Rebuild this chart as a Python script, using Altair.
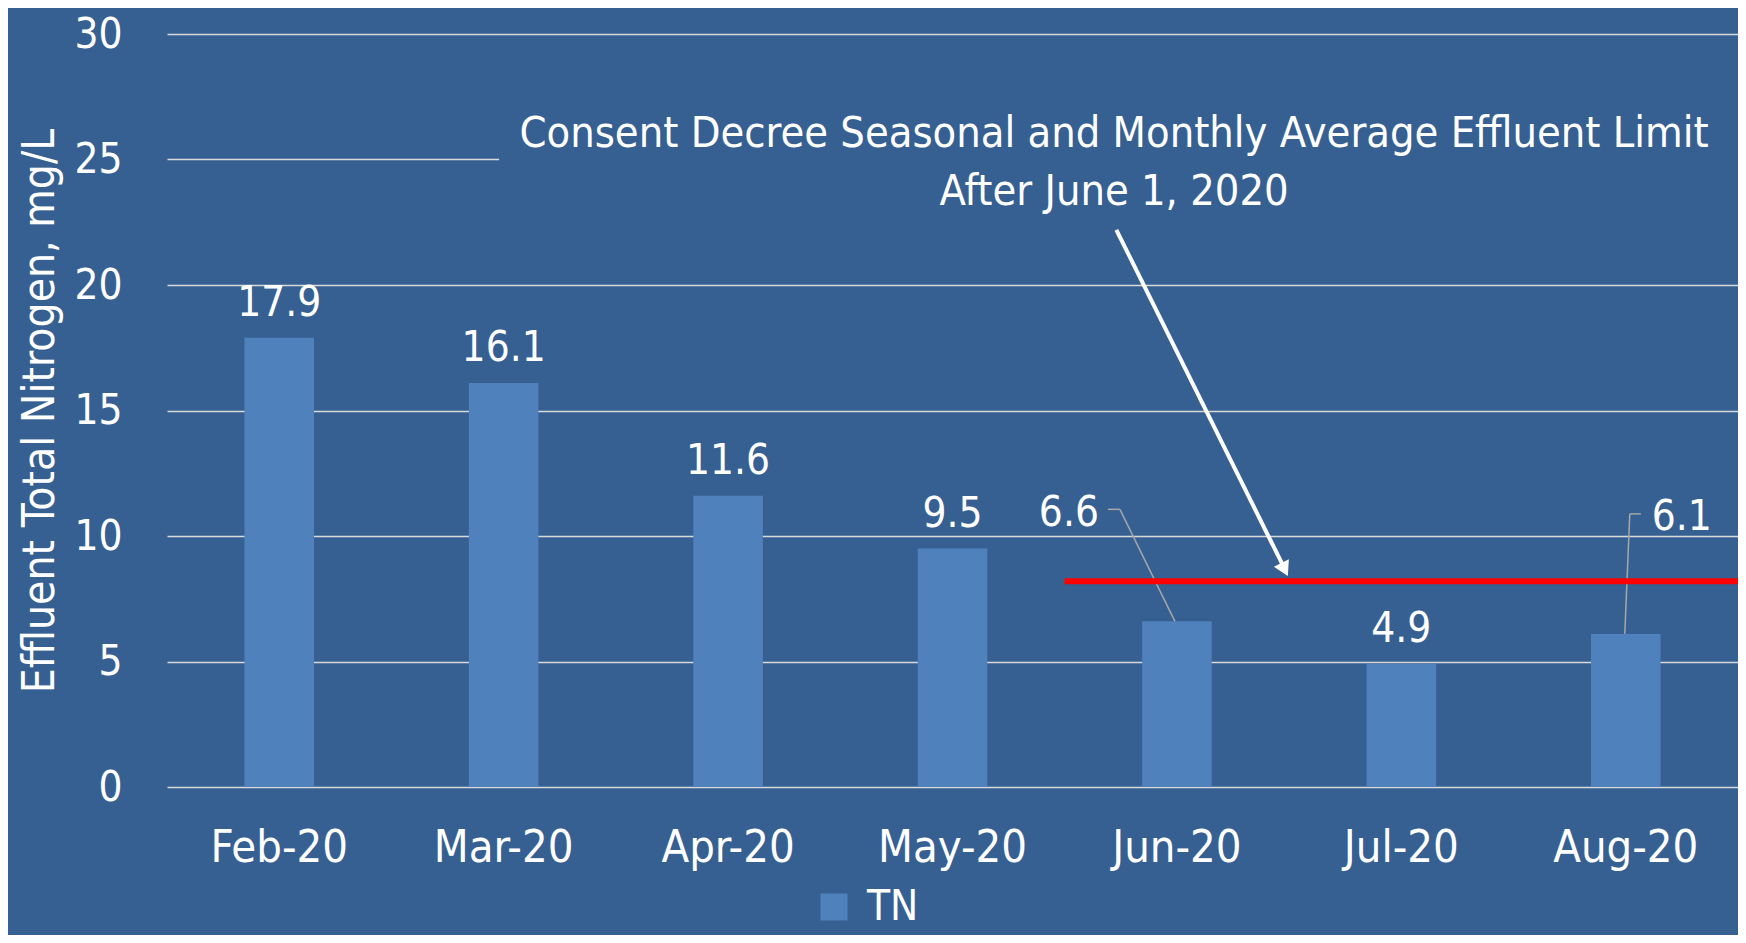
import altair as alt
import pandas as pd

# ---- data ----
months = ["Feb-20", "Mar-20", "Apr-20", "May-20", "Jun-20", "Jul-20", "Aug-20"]
tn_values = [17.9, 16.1, 11.6, 9.5, 6.6, 4.9, 6.1]
series_name = "TN"
limit_value = 8.2                      # consent decree limit (red line)
limit_x = [4.0, 7.0]                   # from start of Jun-20 band to the right edge (band units)
annot_lines = ["Consent Decree Seasonal and Monthly Average Effluent Limit", "After June 1, 2020"]
annot_x, annot_y = 4.22, 25.5
arrow_from = (4.23, 22.2)
arrow_to = (4.985, 8.6)
arrowhead = (4.975, 8.75)
mask_x = [1.48, 7.0]
mask_y = [22.0, 27.8]
callout_months = ["Jun-20", "Aug-20"]

BG = "#376092"
BAR = "#4F81BD"
GRID = "#D9D9D9"
FONT = "Liberation Sans Narrow, DejaVu Sans Condensed, sans-serif"

W, H = 1571, 753

df = pd.DataFrame({"month": months, "tn": tn_values, "series": [series_name] * len(months)})
plain = df[~df["month"].isin(callout_months)]

xband = alt.X("month:N", sort=months,
              scale=alt.Scale(paddingInner=0.69, paddingOuter=0.345),
              axis=alt.Axis(title=None, labelAngle=0, labelFontSize=45, labelColor="white",
                            labelFont=FONT, labelPadding=38, ticks=False, domain=False, grid=False))
yq = alt.Y("tn:Q", scale=alt.Scale(domain=[0, 30]),
           axis=alt.Axis(title="Effluent Total Nitrogen, mg/L", values=[0, 5, 10, 15, 20, 25, 30],
                         labelFontSize=42, labelColor="white", labelFont=FONT, labelPadding=45,
                         ticks=False, domain=False, grid=True, gridColor=GRID, gridWidth=1.6,
                         titleFontSize=44, titleColor="white", titleFont=FONT, titleFontWeight="normal",
                         titleX=-114, titleY=H / 2, titleBaseline="alphabetic", titleAngle=270))

bars = alt.Chart(df).mark_bar().encode(
    x=xband, y=yq,
    color=alt.Color("series:N", scale=alt.Scale(range=[BAR]),
                    legend=alt.Legend(title=None, orient="none", legendX=646, legendY=852,
                                      symbolType="square", symbolSize=729, symbolStrokeWidth=0,
                                      labelFontSize=42, labelColor="white", labelFont=FONT,
                                      labelOffset=12, padding=0)))

labels = alt.Chart(plain).mark_text(baseline="alphabetic", dy=-22, fontSize=42, color="white",
                                    font=FONT).encode(
    x=alt.X("month:N", sort=months), y="tn:Q", text=alt.Text("tn:Q", format=".1f"))

jun = df[df["month"] == "Jun-20"]
aug = df[df["month"] == "Aug-20"]

lab_jun = alt.Chart(jun).mark_text(align="right", baseline="alphabetic", dx=-78, dy=-95,
                                   fontSize=42, color="white", font=FONT).encode(
    x=alt.X("month:N", sort=months), y="tn:Q", text=alt.Text("tn:Q", format=".1f"))
lab_aug = alt.Chart(aug).mark_text(align="left", baseline="alphabetic", dx=26, dy=-104,
                                   fontSize=42, color="white", font=FONT).encode(
    x=alt.X("month:N", sort=months), y="tn:Q", text=alt.Text("tn:Q", format=".1f"))

lead_style = dict(color="#A6A6A6", strokeWidth=1.5)
lead_jun1 = alt.Chart(jun).mark_rule(xOffset=-69, x2Offset=-57, yOffset=-112, y2Offset=-112, **lead_style).encode(
    x=alt.X("month:N", sort=months), x2="month:N", y="tn:Q", y2="tn:Q")
lead_jun2 = alt.Chart(jun).mark_rule(xOffset=-57, x2Offset=-2, yOffset=-112, y2Offset=0, **lead_style).encode(
    x=alt.X("month:N", sort=months), x2="month:N", y="tn:Q", y2="tn:Q")
lead_aug1 = alt.Chart(aug).mark_rule(xOffset=15, x2Offset=4, yOffset=-120, y2Offset=-120, **lead_style).encode(
    x=alt.X("month:N", sort=months), x2="month:N", y="tn:Q", y2="tn:Q")
lead_aug2 = alt.Chart(aug).mark_rule(xOffset=4, x2Offset=-1, yOffset=-120, y2Offset=0, **lead_style).encode(
    x=alt.X("month:N", sort=months), x2="month:N", y="tn:Q", y2="tn:Q")

band_layer = alt.layer(bars, labels, lab_jun, lab_aug, lead_jun1, lead_jun2, lead_aug1, lead_aug2)

# quantitative overlay (same pixel range, 0..7 band units)
xq_scale = alt.Scale(domain=[0, 7], nice=False, zero=False)

mask = alt.Chart(pd.DataFrame({"x": [mask_x[0]], "x2": [mask_x[1]], "y": [mask_y[0]], "y2": [mask_y[1]]})).mark_rect(
    color=BG).encode(x=alt.X("x:Q", scale=xq_scale, axis=None), x2="x2:Q",
                     y=alt.Y("y:Q", scale=alt.Scale(domain=[0, 30])), y2="y2:Q")

annot = alt.Chart(pd.DataFrame({"x": [annot_x], "y": [annot_y], "t": [annot_lines]})).mark_text(
    align="center", baseline="alphabetic", fontSize=43, lineHeight=58, color="white", font=FONT).encode(
    x=alt.X("x:Q", scale=xq_scale, axis=None), y=alt.Y("y:Q", scale=alt.Scale(domain=[0, 30])), text="t")

limit = alt.Chart(pd.DataFrame({"x": [limit_x[0]], "x2": [limit_x[1]], "y": [limit_value]})).mark_rule(
    color="#FF0000", strokeWidth=6).encode(
    x=alt.X("x:Q", scale=xq_scale, axis=None), x2="x2:Q", y=alt.Y("y:Q", scale=alt.Scale(domain=[0, 30])))

arrow = alt.Chart(pd.DataFrame({"x": [arrow_from[0]], "y": [arrow_from[1]],
                                "x2": [arrow_to[0]], "y2": [arrow_to[1]]})).mark_rule(
    color="white", strokeWidth=4).encode(
    x=alt.X("x:Q", scale=xq_scale, axis=None), x2="x2:Q",
    y=alt.Y("y:Q", scale=alt.Scale(domain=[0, 30])), y2="y2:Q")

head = alt.Chart(pd.DataFrame({"x": [arrowhead[0]], "y": [arrowhead[1]]})).mark_point(
    shape="triangle", filled=True, color="white", size=280, angle=153.5, opacity=1).encode(
    x=alt.X("x:Q", scale=xq_scale, axis=None), y=alt.Y("y:Q", scale=alt.Scale(domain=[0, 30])))

quant_layer = alt.layer(mask, limit, annot, arrow, head)

chart = alt.layer(band_layer, quant_layer).resolve_scale(x="independent").properties(
    width=W, height=H, background=BG,
    autosize=alt.AutoSizeParams(type="none"),
    padding={"left": 159, "top": 26, "right": 0, "bottom": 148},
).configure_view(stroke=None)

chart.save("out.html", embed_options={"renderer": "svg", "actions": False})
